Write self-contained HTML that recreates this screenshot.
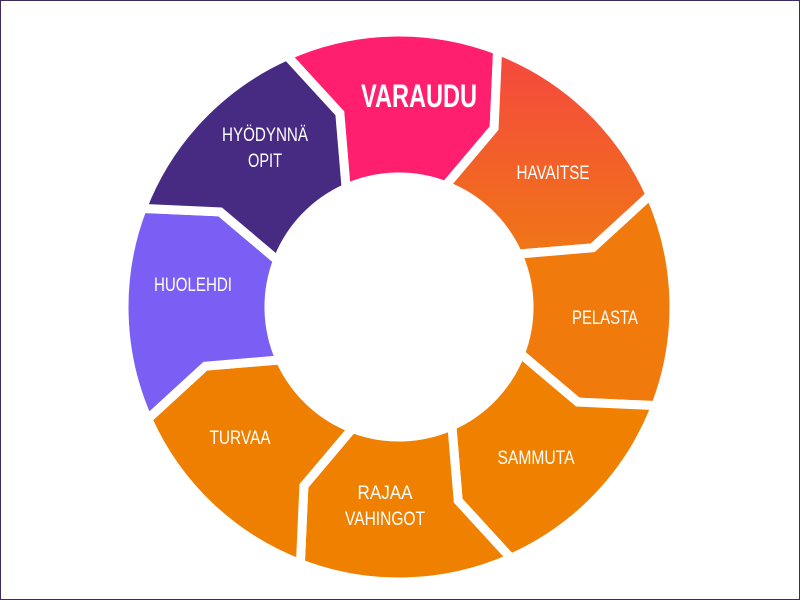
<!DOCTYPE html>
<html><head><meta charset="utf-8"><style>
html,body{margin:0;padding:0;background:#fff}
#w{width:798px;height:598px;border:1px solid #3d2b5e;position:relative;overflow:hidden}
svg{position:absolute;left:-1px;top:-1px}
text{font-family:"Liberation Sans",sans-serif;fill:#fff;text-anchor:middle}
</style></head><body><div id="w">
<svg id="s" width="800" height="600" viewBox="0 0 800 600">
<defs><linearGradient id="g1" x1="0" y1="0" x2="0" y2="1"><stop offset="0" stop-color="#f5473f"/><stop offset="1" stop-color="#f07616"/></linearGradient></defs>
<g id="segs"></g>
<g font-size="19">
<text x="419" y="107" font-size="32" font-weight="bold" textLength="116" lengthAdjust="spacingAndGlyphs">VARAUDU</text>
<text x="553" y="179" textLength="73" lengthAdjust="spacingAndGlyphs">HAVAITSE</text>
<text x="605" y="324" textLength="66" lengthAdjust="spacingAndGlyphs">PELASTA</text>
<text x="536" y="464" textLength="77" lengthAdjust="spacingAndGlyphs">SAMMUTA</text>
<text x="385" y="499" textLength="55" lengthAdjust="spacingAndGlyphs">RAJAA</text>
<text x="385" y="525" textLength="80" lengthAdjust="spacingAndGlyphs">VAHINGOT</text>
<text x="240" y="444" textLength="61" lengthAdjust="spacingAndGlyphs">TURVAA</text>
<text x="193" y="291" textLength="78" lengthAdjust="spacingAndGlyphs">HUOLEHDI</text>
<text x="265" y="141" textLength="86" lengthAdjust="spacingAndGlyphs">HYÖDYNNÄ</text>
<text x="265" y="167" textLength="34" lengthAdjust="spacingAndGlyphs">OPIT</text>
</g>
</svg>
<script>
(function(){
var cx=399,cy=307,R=275,r=130,m=(R+r)/2,k=7,off=-1.5;
var cols=["#ff1f6e","url(#g1)","#f07a0c","#f08000","#f08000","#ef7f00","#7b5ff5","#472a82"];
function P(rad,deg){var a=(deg)*Math.PI/180;return (cx+rad*Math.sin(a)).toFixed(1)+","+(cy-rad*Math.cos(a)).toFixed(1);}
var out="";
for(var i=0;i<8;i++){
var a0=i*45-22.5+off,a1=a0+45;
var d="M"+P(R,a0)+" A"+R+","+R+" 0 0 1 "+P(R,a1)+" L"+P(m,a1+k)+" L"+P(r,a1)+" A"+r+","+r+" 0 0 0 "+P(r,a0)+" L"+P(m,a0+k)+" Z";
out+='<path d="'+d+'" fill="'+cols[i]+'" stroke="#fff" stroke-width="9" stroke-linejoin="miter"/>';
}
document.getElementById("segs").innerHTML=out;
})();
</script>
</div></body></html>
